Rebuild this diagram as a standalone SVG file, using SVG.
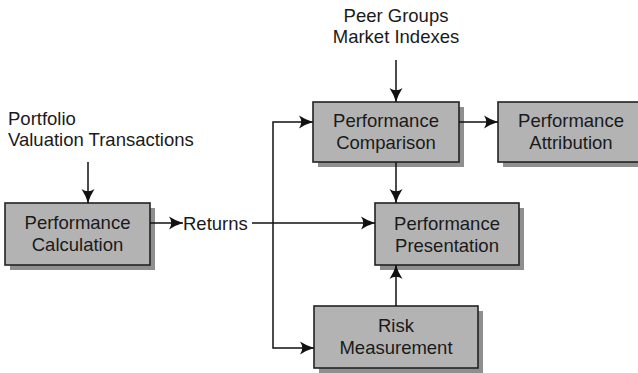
<svg xmlns="http://www.w3.org/2000/svg" width="638" height="373" viewBox="0 0 638 373">
  <defs>
    <marker id="arrow" viewBox="0 0 14 14" refX="14" refY="7" markerWidth="14" markerHeight="14" markerUnits="userSpaceOnUse" orient="auto">
      <path d="M0,0.5 Q7,5 14,7 Q7,9 0,13.5 Q4.5,7 0,0.5 Z" fill="#111"/>
    </marker>
  </defs>
  <style>
    .box { fill: #b3b3b3; stroke: #222; stroke-width: 1.6; }
    .shadow { fill: #8f8f8f; }
    .lbl { font-family: "Liberation Sans", Arial, sans-serif; font-size: 18.5px; fill: #1a1a1a; }
    .mid { text-anchor: middle; }
    .wire { fill: none; stroke: #111; stroke-width: 1.5; }
  </style>
  <rect width="638" height="373" fill="#fff"/>

  <g id="portfolio-inputs">
    <text class="lbl" x="8" y="125">Portfolio</text>
    <text class="lbl" x="8" y="146">Valuation Transactions</text>
  </g>

  <g id="peer-inputs">
    <text class="lbl mid" x="396" y="22">Peer Groups</text>
    <text class="lbl mid" x="396" y="43">Market Indexes</text>
  </g>

  <g id="calculation">
    <rect class="shadow" x="10" y="208" width="145" height="62"/>
    <rect class="box" x="5" y="203" width="145" height="62"/>
    <text class="lbl mid" x="77.5" y="229">Performance</text>
    <text class="lbl mid" x="77.5" y="251">Calculation</text>
  </g>

  <g id="comparison">
    <rect class="shadow" x="318" y="107" width="146" height="60"/>
    <rect class="box" x="313" y="102" width="146" height="60"/>
    <text class="lbl mid" x="386" y="127">Performance</text>
    <text class="lbl mid" x="386" y="149">Comparison</text>
  </g>

  <g id="attribution">
    <rect class="shadow" x="503" y="107" width="146" height="60"/>
    <rect class="box" x="498" y="102" width="146" height="60"/>
    <text class="lbl mid" x="571" y="127">Performance</text>
    <text class="lbl mid" x="571" y="149">Attribution</text>
  </g>

  <g id="presentation">
    <rect class="shadow" x="380" y="208" width="144" height="62"/>
    <rect class="box" x="375" y="203" width="144" height="62"/>
    <text class="lbl mid" x="447" y="230">Performance</text>
    <text class="lbl mid" x="447" y="252">Presentation</text>
  </g>

  <g id="risk">
    <rect class="shadow" x="319" y="311" width="164" height="62"/>
    <rect class="box" x="314" y="306" width="164" height="62"/>
    <text class="lbl mid" x="396" y="332">Risk</text>
    <text class="lbl mid" x="396" y="354">Measurement</text>
  </g>

  <g id="connectors">
    <path class="wire" d="M88,162 V203" marker-end="url(#arrow)"/>
    <path class="wire" d="M396,60 V102" marker-end="url(#arrow)"/>
    <path class="wire" d="M150,223 H183" marker-end="url(#arrow)"/>
    <text class="lbl" x="183" y="230">Returns</text>
    <path class="wire" d="M252,223 H375" marker-end="url(#arrow)"/>
    <path class="wire" d="M273,223 V122 H313" marker-end="url(#arrow)"/>
    <path class="wire" d="M273,223 V348 H314" marker-end="url(#arrow)"/>
    <path class="wire" d="M459,122 H498" marker-end="url(#arrow)"/>
    <path class="wire" d="M396,162 V203" marker-end="url(#arrow)"/>
    <path class="wire" d="M396,306 V265" marker-end="url(#arrow)"/>
  </g>
</svg>
